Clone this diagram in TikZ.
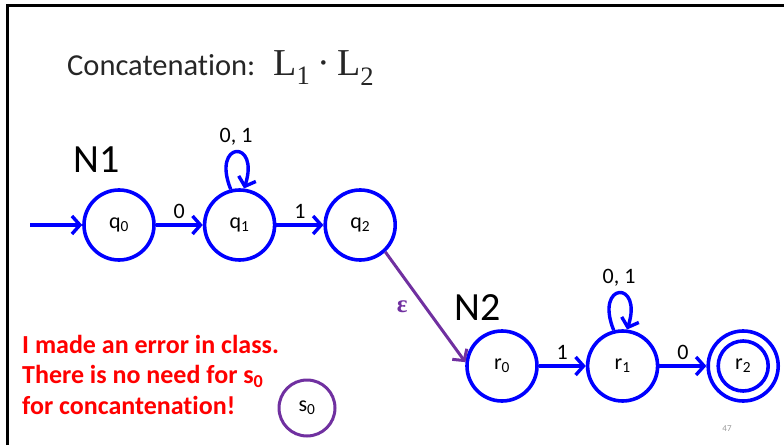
\documentclass[tikz,border=0pt]{standalone}
\usepackage{fontspec}
\setmainfont{Carlito}[Ligatures=NoCommon]
\newfontfamily\serifmath{Liberation Serif}
\usetikzlibrary{arrows.meta,positioning}
\definecolor{nfablue}{HTML}{0000FF}
\definecolor{epspurple}{HTML}{7030A0}
\definecolor{notered}{HTML}{FF0000}
\definecolor{slideink}{HTML}{262626}

\begin{document}
\begin{tikzpicture}[x=1pt,y=1pt,node distance=47pt,
  every node/.style={font=\fontsize{22}{26}\selectfont},
  st/.style={circle,draw=nfablue,line width=3.6pt,minimum size=70pt,inner sep=0pt},
  arr/.style={-{Straight Barb[length=8pt,width=18pt]},draw=nfablue,line width=3.4pt},
  lbl/.style={above=4pt,inner sep=1pt}]
  \useasboundingbox (0,0) rectangle (784,445);
  \draw[line width=3pt] (7,0) -- (7,439) -- (784,439);
  \node[anchor=base west,inner sep=0pt,font=\fontsize{30.5}{36}\selectfont,slideink] (title) at (67,369) {Concatenation:\hspace{18pt}{\serifmath\fontsize{38}{40}\selectfont L\textsubscript{1}\hspace{7pt}·\hspace{7pt}L\textsubscript{2}}};
  % N1
  \node[st] (q0) at (119,220) {q\textsubscript{0}};
  \node[st,right=of q0] (q1) {q\textsubscript{1}};
  \node[st,right=of q1] (q2) {q\textsubscript{2}};
  \node[font=\fontsize{40}{48}\selectfont] (n1) at (97,285) {N1};
  \coordinate (start) at (30,220);
  \draw[arr] (start)--(q0); \draw[arr] (q0)--node[lbl]{0}(q1); \draw[arr] (q1)--node[lbl]{1}(q2);
  \draw[arr] (q1.104) to[out=112,in=72,looseness=10] node[above=2pt]{0, 1} (q1.83);
  % N2
  \node[st] (r0) at (502,79) {r\textsubscript{0}};
  \node[st,right=of r0] (r1) {r\textsubscript{1}};
  \node[st,right=of r1] (r2) {r\textsubscript{2}};
  \draw[nfablue,line width=3.6pt] (r2) circle[radius=25pt];
  \node[font=\fontsize{40}{48}\selectfont] (n2) at (478,137) {N2};
  \draw[arr] (r0)--node[lbl]{1}(r1); \draw[arr] (r1)--node[lbl]{0}(r2);
  \draw[arr] (r1.104) to[out=112,in=72,looseness=10] node[above=2pt]{0, 1} (r1.83);
  % epsilon move
  \draw[arr,draw=epspurple,line width=3pt] (q2.-47)--node[left=13pt,text=epspurple,font=\fontsize{25}{28}\selectfont\serifmath\bfseries]{ε}(r0.174);
  % note
  \node[anchor=north west,inner sep=0pt,align=left,notered,font=\fontsize{26}{30.5}\selectfont\bfseries] (note) at (22,110) {I made an error in class.\\There is no need for s\textsubscript{0}\\for concantenation!};
  \node[st,draw=epspurple,line width=3pt,minimum size=56pt] (s0) at (307,37) {s\textsubscript{0}};
  \node[font=\fontsize{9}{10}\selectfont,black!40] (page) at (727,16) {47};
\end{tikzpicture}
\end{document}
